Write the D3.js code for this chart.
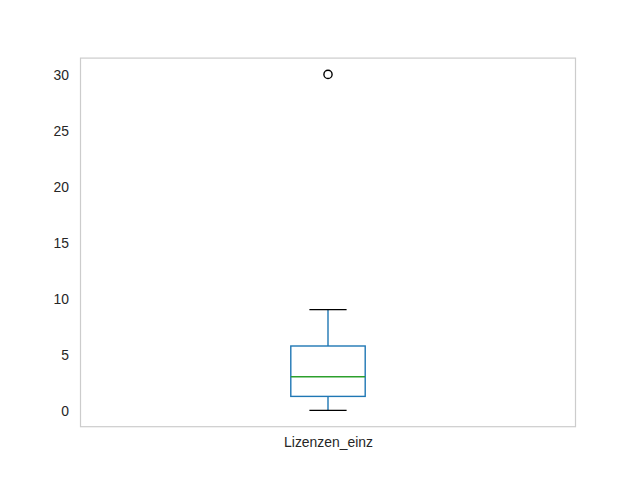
<!DOCTYPE html>
<html><head><meta charset="utf-8">
<script src="https://cdn.jsdelivr.net/npm/d3@7"></script>
<style>body{margin:0;background:#fff}svg{display:block}text{font-family:Arial,"Liberation Sans",sans-serif;fill:#262626}</style>
</head><body>
<script>
const categories = ["Lizenzen_einz"];
const whiskerLow = [0];
const q1 = [1.25];
const median = [3];
const q3 = [5.75];
const whiskerHigh = [9];
const outliers = [[30]];
const yTicks = [0, 5, 10, 15, 20, 25, 30];

const W = 640, H = 480;
const m = {left: 80, right: 576, top: 57.6, bottom: 427.2};
const svg = d3.select("body").append("svg").attr("width", W).attr("height", H);

const y = d3.scaleLinear().domain([-1.5, 31.5]).range([m.bottom, m.top]);
const x = d3.scaleLinear().domain([0.5, categories.length + 0.5]).range([m.left, m.right]);
const boxW = 0.15, capW = 0.075;

// axes
const yAxis = d3.axisLeft(y).tickValues(yTicks).tickSize(0).tickPadding(11);
const gy = svg.append("g").attr("transform", `translate(${m.left},0)`).call(yAxis);
gy.select(".domain").remove();
gy.selectAll("text").style("font-size", "13.9px").attr("fill", "#262626").attr("dy", "0.35em");

const xAxis = d3.axisBottom(x).tickValues(categories.map((c, i) => i + 1)).tickFormat((d) => categories[d - 1]).tickSize(0).tickPadding(10);
const gx = svg.append("g").attr("transform", `translate(0,${m.bottom})`).call(xAxis);
gx.select(".domain").remove();
gx.selectAll("text").style("font-size", "13.9px").attr("fill", "#262626");

svg.append("rect").attr("x", m.left + 0.5).attr("y", m.top + 0.5)
  .attr("width", m.right - m.left - 1).attr("height", m.bottom - m.top - 1)
  .attr("fill", "none").attr("stroke", "#cccccc").attr("stroke-width", 1.2);

const blue = "#1f77b4";
categories.forEach((c, i) => {
  const p = i + 1;
  const g = svg.append("g");
  // whiskers
  g.append("line").attr("x1", x(p)).attr("x2", x(p)).attr("y1", y(q3[i])).attr("y2", y(whiskerHigh[i])).attr("stroke", blue).attr("stroke-width", 1.4);
  g.append("line").attr("x1", x(p)).attr("x2", x(p)).attr("y1", y(q1[i])).attr("y2", y(whiskerLow[i])).attr("stroke", blue).attr("stroke-width", 1.4);
  // caps
  [whiskerHigh[i], whiskerLow[i]].forEach(v => {
    g.append("line").attr("x1", x(p - capW / 2)).attr("x2", x(p + capW / 2)).attr("y1", y(v)).attr("y2", y(v)).attr("stroke", "#000").attr("stroke-width", 1.4);
  });
  // box
  g.append("rect").attr("x", x(p - boxW / 2)).attr("width", x(p + boxW / 2) - x(p - boxW / 2))
    .attr("y", y(q3[i])).attr("height", y(q1[i]) - y(q3[i]))
    .attr("fill", "none").attr("stroke", blue).attr("stroke-width", 1.4);
  // median
  g.append("line").attr("x1", x(p - boxW / 2)).attr("x2", x(p + boxW / 2)).attr("y1", y(median[i])).attr("y2", y(median[i])).attr("stroke", "#2ca02c").attr("stroke-width", 1.4);
  // outliers
  g.selectAll("circle").data(outliers[i]).enter().append("circle")
    .attr("cx", x(p)).attr("cy", d => y(d)).attr("r", 4.1)
    .attr("fill", "none").attr("stroke", "#000").attr("stroke-width", 1.4);
});
</script>
</body></html>
